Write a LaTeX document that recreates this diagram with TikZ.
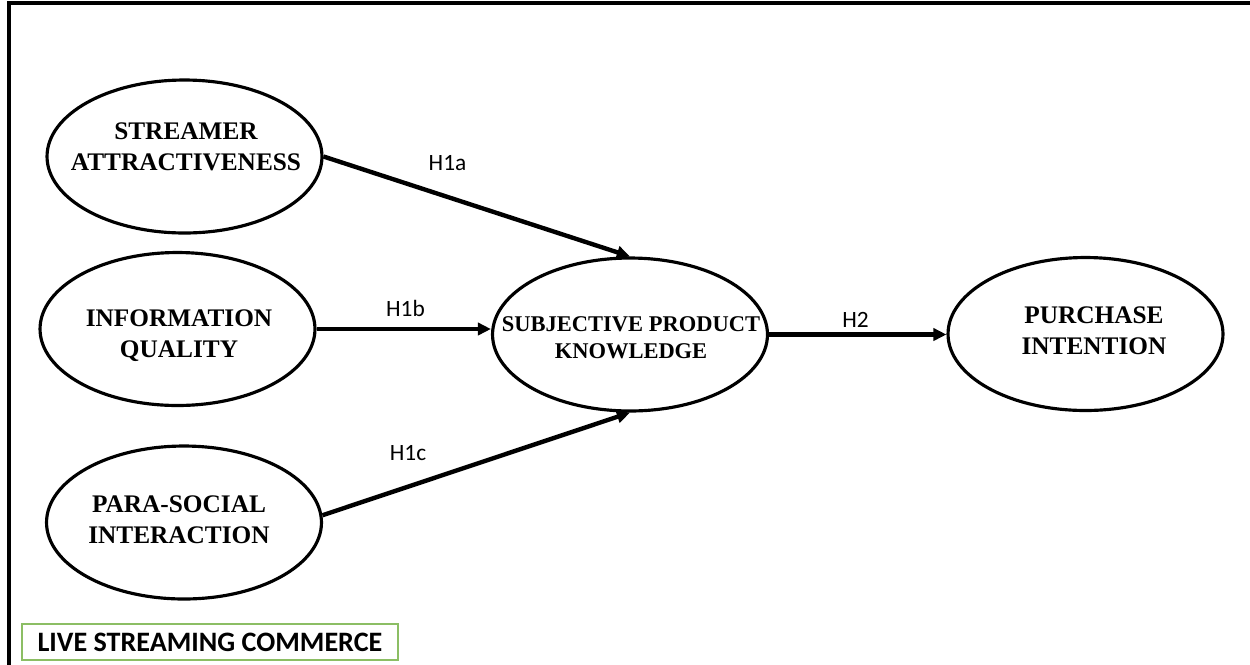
\documentclass[tikz,border=0pt]{standalone}
\usepackage{fontspec}
\setmainfont{Liberation Serif}
\newfontfamily\calibri{Carlito}
\usetikzlibrary{shapes.geometric,arrows.meta}
\definecolor{boxgreen}{RGB}{140,190,100}
\begin{document}
\begin{tikzpicture}[x=0.02cm,y=-0.02cm,
  construct/.style={ellipse,draw,line width=1.8pt,minimum width=5.5cm,minimum height=3.06cm,inner sep=0pt},
  ctext/.style={font=\fontsize{14.4}{17.5}\selectfont\bfseries,align=center,inner sep=0pt},
  hyp/.style={line width=2.5pt,-{Triangle[length=7.5pt,width=7pt]}},
  hlabel/.style={font=\calibri\fontsize{13.3}{16}\selectfont,anchor=base,inner sep=0pt},
  framebox/.style={draw=boxgreen,line width=1pt,minimum width=7.52cm,minimum height=0.72cm,inner sep=0pt,font=\calibri\bfseries\fontsize{16}{19}\selectfont}
]
\useasboundingbox (0,0) rectangle (1250,664);
\draw[line width=2pt] (9,670) -- (9,3) -- (1260,3);

\node[construct] (sa) at (184.5,156.5) {};
\node[construct] (iq) at (177.5,329) {};
\node[construct] (ps) at (184,522.5) {};
\node[construct] (spk) at (630,334.5) {};
\node[construct] (pi) at (1085.5,334) {};

\node[ctext] (sat) at (186,147) {STREAMER\\ATTRACTIVENESS};
\node[ctext] (iqt) at (179,336) {INFORMATION\\QUALITY};
\node[ctext] (pst) at (179,520) {PARA-SOCIAL\\INTERACTION};
\node[ctext,font=\fontsize{12.8}{15.2}\selectfont\bfseries] (spkt) at (631,338) {SUBJECTIVE PRODUCT\\KNOWLEDGE};
\node[ctext] (pit) at (1094,331) {PURCHASE\\INTENTION};

\draw[hyp] (sa.east) -- (spk.north);
\draw[hyp] (iq.east) -- (iq.east -| spk.west);
\draw[hyp] (ps.3) -- (spk.south);
\draw[hyp] (spk.east) -- (spk.east -| pi.west);

\node[hlabel] (h1a) at (447.5,170.7) {H1a};
\node[hlabel] (h1b) at (405.5,316.7) {H1b};
\node[hlabel] (h1c) at (408,460.7) {H1c};
\node[hlabel] (h2) at (855.5,327.3) {H2};

\node[framebox] (lsc) at (210,642) {LIVE STREAMING COMMERCE};
\end{tikzpicture}
\end{document}
